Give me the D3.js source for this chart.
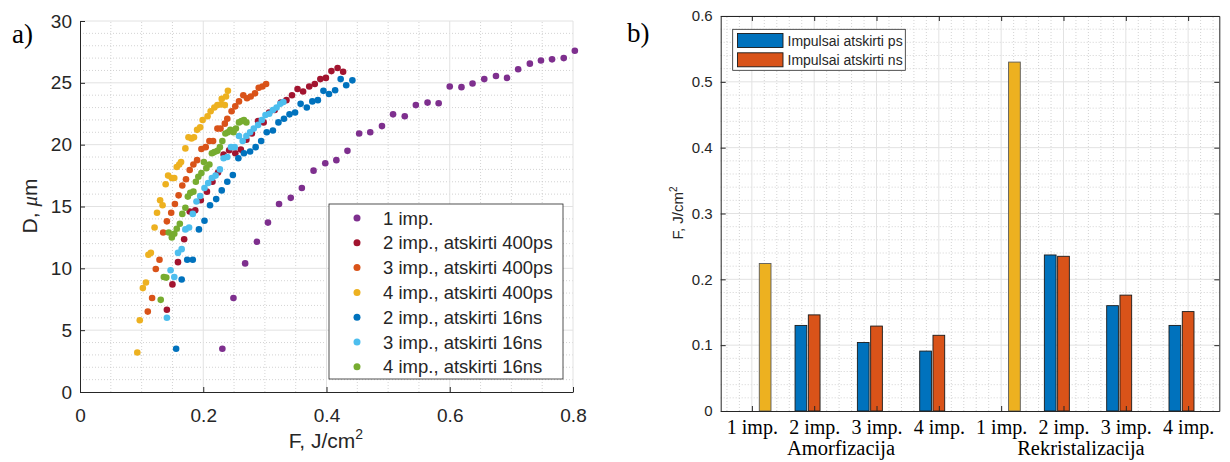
<!DOCTYPE html>
<html>
<head>
<meta charset="utf-8">
<script src="https://cdn.jsdelivr.net/npm/d3@7"></script>
<style>
  body { margin: 0; background: #fff; }
  svg { display: block; }
</style>
</head>
<body>
<div id="chart"></div>
<script>
// ---------- data: panel a) crater diameter D (um) vs fluence F (J/cm2) ----------
var imp1 = [[0.231,3.5],[0.249,7.6],[0.268,10.4],[0.287,12.15],[0.305,13.7],[0.323,15.2],[0.342,15.7],
  [0.360,16.5],[0.379,17.9],[0.398,18.5],[0.416,18.75],[0.434,19.5],[0.453,20.9],[0.471,21.0],[0.490,21.5],
  [0.508,22.45],[0.527,22.3],[0.545,23.2],[0.564,23.4],[0.582,23.35],[0.600,24.7],[0.619,24.65],[0.637,24.95],
  [0.656,25.3],[0.675,25.55],[0.693,25.4],[0.711,26.1],[0.730,26.55],[0.748,26.8],[0.766,26.9],[0.785,27.0],[0.803,27.6]];
var imp2ps = [[0.141,6.65],[0.150,8.7],[0.159,10.5],[0.169,12.35],[0.178,14.6],[0.187,14.7],[0.196,15.5],
  [0.206,16.2],[0.215,17.0],[0.224,17.75],[0.233,19.2],[0.242,19.55],[0.252,19.3],[0.261,19.6],[0.270,20.4],
  [0.279,20.9],[0.289,21.9],[0.298,21.8],[0.307,22.6],[0.316,22.8],[0.326,23.4],[0.335,23.6],[0.344,24.0],
  [0.353,24.5],[0.362,24.3],[0.372,24.7],[0.381,24.9],[0.390,25.3],[0.399,25.4],[0.408,25.95],[0.418,26.2],[0.427,25.9]];
var imp3ps = [[0.110,6.5],[0.117,7.6],[0.123,9.95],[0.129,10.7],[0.135,12.9],[0.141,13.8],[0.148,14.5],
  [0.154,15.2],[0.160,15.9],[0.166,16.7],[0.172,17.2],[0.178,17.95],[0.184,18.4],[0.190,18.75],[0.197,19.65],
  [0.204,19.8],[0.210,20.3],[0.216,20.3],[0.223,21.3],[0.228,21.3],[0.235,21.7],[0.239,22.1],[0.246,22.7],
  [0.252,23.1],[0.258,23.5],[0.265,24.0],[0.271,23.75],[0.277,23.9],[0.284,24.15],[0.290,24.6],[0.296,24.7],[0.302,24.9]];
var imp4ps = [[0.093,3.2],[0.097,5.8],[0.102,8.4],[0.107,8.85],[0.111,11.1],[0.115,11.25],[0.121,13.3],
  [0.125,14.5],[0.130,15.5],[0.134,15.1],[0.139,16.8],[0.143,17.5],[0.149,17.3],[0.153,17.3],[0.157,18.2],
  [0.161,18.4],[0.164,18.6],[0.171,19.7],[0.176,20.6],[0.181,20.5],[0.185,20.6],[0.190,21.2],[0.195,21.4],
  [0.199,22.0],[0.207,22.3],[0.212,22.7],[0.218,23.0],[0.223,23.2],[0.228,23.25],[0.230,23.7],[0.235,23.2],
  [0.237,23.9],[0.240,24.35]];
var imp2ns = [[0.156,3.5],[0.165,9.1],[0.174,10.7],[0.183,10.7],[0.193,13.15],[0.202,13.85],[0.211,15.1],
  [0.221,15.6],[0.230,16.3],[0.239,17.0],[0.248,17.55],[0.257,18.9],[0.266,19.3],[0.276,19.45],[0.285,19.8],
  [0.294,20.3],[0.303,21.0],[0.313,21.15],[0.322,21.8],[0.331,22.1],[0.340,22.45],[0.349,22.6],[0.358,23.3],
  [0.368,23.0],[0.377,23.5],[0.386,23.6],[0.395,24.35],[0.404,24.1],[0.414,24.4],[0.423,25.3],[0.432,24.8],[0.442,25.2]];
var imp3ns = [[0.141,6.0],[0.147,9.85],[0.153,9.3],[0.159,11.25],[0.165,11.55],[0.171,13.15],[0.177,13.3],
  [0.183,14.4],[0.189,15.4],[0.195,15.85],[0.202,16.5],[0.208,16.9],[0.214,17.3],[0.220,17.5],[0.227,18.0],
  [0.233,18.9],[0.239,19.0],[0.245,19.8],[0.251,19.8],[0.258,20.7],[0.264,20.3],[0.270,20.7],[0.276,21.0],
  [0.282,21.3],[0.289,21.6],[0.295,22.0],[0.301,22.4],[0.307,22.5],[0.313,22.8],[0.319,23.0],[0.325,23.3],[0.330,23.45]];
var imp4ns = [[0.131,7.45],[0.136,9.3],[0.140,9.25],[0.144,12.9],[0.149,12.5],[0.153,12.8],[0.157,13.2],
  [0.162,13.6],[0.166,14.4],[0.171,14.9],[0.175,15.8],[0.179,16.1],[0.184,16.2],[0.188,17.0],[0.192,17.4],
  [0.197,17.7],[0.201,18.6],[0.205,18.1],[0.210,18.4],[0.214,19.3],[0.218,19.4],[0.223,19.5],[0.227,19.8],
  [0.231,20.3],[0.236,20.9],[0.240,21.0],[0.244,21.2],[0.249,21.0],[0.253,21.3],[0.258,21.8],[0.262,21.9],
  [0.266,22.0],[0.270,21.8]];
var seriesNamesA = ["1 imp.", "2 imp., atskirti 400ps", "3 imp., atskirti 400ps", "4 imp., atskirti 400ps",
  "2 imp., atskirti 16ns", "3 imp., atskirti 16ns", "4 imp., atskirti 16ns"];
var xTicksA = [0, 0.2, 0.4, 0.6, 0.8];
var yTicksA = [0, 5, 10, 15, 20, 25, 30];

// ---------- data: panel b) threshold fluence ----------
var categoriesB = ["1 imp.", "2 imp.", "3 imp.", "4 imp.", "1 imp.", "2 imp.", "3 imp.", "4 imp."];
var groupLabelsB = ["Amorfizacija", "Rekristalizacija"];
var valuesPs = [0, 0.130, 0.104, 0.091, 0, 0.237, 0.160, 0.130];
var valuesNs = [0, 0.146, 0.129, 0.115, 0, 0.235, 0.176, 0.151];
var valuesSingle = [0.224, 0, 0, 0, 0.530, 0, 0, 0];
var legendNamesB = ["Impulsai atskirti ps", "Impulsai atskirti ns"];
var yTicksB = [0, 0.1, 0.2, 0.3, 0.4, 0.5, 0.6];

// matlab default colour order
var colorsA = ["#7E2F8E", "#A2142F", "#D95319", "#EDB120", "#0072BD", "#4DBEEE", "#77AC30"];
var colorsB = ["#0072BD", "#D95319", "#EDB120"];
var axisCol = "#262626";
var sans = "'Liberation Sans', Arial, sans-serif";
var serif = "'Liberation Serif', 'Times New Roman', serif";

var svg = d3.select("#chart").append("svg")
  .attr("width", 1230).attr("height", 462)
  .style("font-family", sans);

function grid(g, x, y, xMinor, xMajor, yMinor, yMajor) {
  var x0 = x.range()[0], x1 = x.range()[1], y0 = y.range()[0], y1 = y.range()[1];
  g.selectAll("line.vmin").data(xMinor).enter().append("line")
    .attr("x1", x).attr("x2", x).attr("y1", y0).attr("y2", y1)
    .attr("stroke", "#c8c8c8").attr("stroke-width", 0.8).attr("stroke-dasharray", "1,2");
  g.selectAll("line.hmin").data(yMinor).enter().append("line")
    .attr("y1", y).attr("y2", y).attr("x1", x0).attr("x2", x1)
    .attr("stroke", "#c8c8c8").attr("stroke-width", 0.8).attr("stroke-dasharray", "1,2");
  g.selectAll("line.vmaj").data(xMajor).enter().append("line")
    .attr("x1", x).attr("x2", x).attr("y1", y0).attr("y2", y1)
    .attr("stroke", "#e2e2e2").attr("stroke-width", 1);
  g.selectAll("line.hmaj").data(yMajor).enter().append("line")
    .attr("y1", y).attr("y2", y).attr("x1", x0).attr("x2", x1)
    .attr("stroke", "#e2e2e2").attr("stroke-width", 1);
}

function styleAxis(g, size, family) {
  g.select(".domain").attr("stroke", axisCol).attr("stroke-width", 1);
  g.selectAll(".tick line").attr("stroke", axisCol);
  g.selectAll(".tick text").attr("fill", axisCol).style("font-size", size + "px").style("font-family", family);
}

// ================= panel a =================
var xa = d3.scaleLinear().domain([0, 0.8]).range([80, 573]);
var ya = d3.scaleLinear().domain([0, 30]).range([392, 21]);

var ga = svg.append("g");
grid(ga, xa, ya,
  d3.range(0.05, 0.8, 0.05).filter(function(v) { return Math.abs(v / 0.2 - Math.round(v / 0.2)) > 0.01; }),
  xTicksA.slice(1),
  d3.range(1, 30, 1).filter(function(v) { return v % 5 !== 0; }),
  yTicksA.slice(1));

ga.append("g").attr("transform", "translate(0,392)")
  .call(d3.axisBottom(xa).tickValues(xTicksA).tickSize(-5).tickSizeOuter(0).tickPadding(17)
    .tickFormat(function(d) { return d === 0 ? "0" : d.toFixed(1); }))
  .call(styleAxis, 19, sans);
ga.append("g").attr("transform", "translate(80,0)")
  .call(d3.axisLeft(ya).tickValues(yTicksA).tickSize(-5).tickSizeOuter(0).tickPadding(8))
  .call(styleAxis, 19, sans);

var allA = [imp1, imp2ps, imp3ps, imp4ps, imp2ns, imp3ns, imp4ns];
ga.selectAll("g.ser").data(allA).enter().append("g")
  .attr("fill", function(d, i) { return colorsA[i]; })
  .selectAll("circle").data(function(d) { return d; }).enter().append("circle")
    .attr("cx", function(d) { return xa(d[0]); })
    .attr("cy", function(d) { return ya(d[1]); })
    .attr("r", 3.3);

// axis titles
ga.append("text").attr("x", 326).attr("y", 448).attr("text-anchor", "middle")
  .attr("fill", axisCol).style("font-size", "21px")
  .html("F, J/cm<tspan dy='-9' style='font-size:14px'>2</tspan>");
var dl = ga.append("text").attr("transform", "translate(37,206) rotate(-90)").attr("text-anchor", "middle")
  .attr("fill", axisCol).style("font-size", "21px");
dl.append("tspan").text("D, ");
dl.append("tspan").style("font-style", "italic").style("font-family", serif).text("\u03bc");
dl.append("tspan").text("m");

// legend a
var la = ga.append("g");
la.append("rect").attr("x", 329).attr("y", 204).attr("width", 234).attr("height", 175)
  .attr("fill", "#fff").attr("stroke", axisCol).attr("stroke-width", 0.8);
var lai = la.selectAll("g.it").data(seriesNamesA).enter().append("g")
  .attr("transform", function(d, i) { return "translate(0," + (218 + i * 24.8) + ")"; });
lai.append("circle").attr("cx", 357).attr("cy", 0).attr("r", 3.5)
  .attr("fill", function(d, i) { return colorsA[i]; });
lai.append("text").attr("x", 383).attr("y", 6.5).attr("fill", axisCol)
  .style("font-size", "18.5px").text(function(d) { return d; });

svg.append("text").attr("x", 12).attr("y", 43).style("font-family", serif)
  .style("font-size", "27px").attr("fill", "#000").text("a)");

// ================= panel b =================
var xb = d3.scaleLinear().domain([0.5, 8.5]).range([720.7, 1219.3]);
var yb = d3.scaleLinear().domain([0, 0.6]).range([411, 16]);
var gb = svg.append("g");

grid(gb, xb, yb,
  d3.range(0.6, 8.5, 0.2).filter(function(v) { return Math.abs(v - Math.round(v)) > 0.01; }),
  d3.range(1, 9),
  d3.range(0.02, 0.6, 0.02).filter(function(v) { return Math.abs(v * 10 - Math.round(v * 10)) > 0.01; }),
  yTicksB.slice(1));

// bars: three series per category (zero values are not drawn)
var off = 0.213, bw = 0.188;
var barSets = [valuesPs, valuesNs, valuesSingle];
barSets.forEach(function(vals, s) {
  var pts = vals.map(function(v, i) { return {cat: i + 1, v: v}; })
    .filter(function(d) { return d.v > 0; });
  gb.append("g").selectAll("rect").data(pts).enter().append("rect")
    .attr("x", function(d) { return xb(d.cat + (s - 1) * off - bw / 2); })
    .attr("y", function(d) { return yb(d.v); })
    .attr("width", xb(bw) - xb(0))
    .attr("height", function(d) { return yb(0) - yb(d.v); })
    .attr("fill", colorsB[s])
    .attr("stroke", s === 2 ? "#5a5a5a" : "#1a1a1a").attr("stroke-width", 0.9);
});

// box axes
gb.append("g").attr("transform", "translate(0,411)")
  .call(d3.axisBottom(xb).tickValues(d3.range(1, 9)).tickSize(-5).tickSizeOuter(0).tickPadding(9)
    .tickFormat(function(d) { return categoriesB[d - 1]; }))
  .call(styleAxis, 20, serif)
  .selectAll(".tick text").attr("fill", "#000");
gb.append("g").attr("transform", "translate(0,16)")
  .call(d3.axisTop(xb).tickValues(d3.range(1, 9)).tickSize(-5).tickSizeOuter(0).tickFormat(""))
  .call(styleAxis, 14, sans);
gb.append("g").attr("transform", "translate(720.7,0)")
  .call(d3.axisLeft(yb).tickValues(yTicksB).tickSize(-5).tickSizeOuter(0).tickPadding(8)
    .tickFormat(function(d) { return d === 0 ? "0" : d.toFixed(1); }))
  .call(styleAxis, 15, sans);
gb.append("g").attr("transform", "translate(1219.3,0)")
  .call(d3.axisRight(yb).tickValues(yTicksB).tickSize(-5).tickSizeOuter(0).tickFormat(""))
  .call(styleAxis, 14, sans);

// group labels under categories
gb.selectAll("text.grp").data(groupLabelsB).enter().append("text")
  .attr("x", function(d, i) { return xb(i === 0 ? 2.43 : 6.28); })
  .attr("y", 455).attr("text-anchor", "middle")
  .style("font-family", serif).style("font-size", "20.5px").attr("fill", "#000")
  .text(function(d) { return d; });

gb.append("text").attr("transform", "translate(683,213) rotate(-90)").attr("text-anchor", "middle")
  .attr("fill", axisCol).style("font-size", "15px")
  .html("F, J/cm<tspan dy='-6' style='font-size:10px'>2</tspan>");

// legend b
var lb = gb.append("g");
lb.append("rect").attr("x", 732.7).attr("y", 29.3).attr("width", 172.6).attr("height", 41)
  .attr("fill", "#fff").attr("stroke", axisCol).attr("stroke-width", 0.8);
var lbi = lb.selectAll("g.it").data(legendNamesB).enter().append("g")
  .attr("transform", function(d, i) { return "translate(0," + (33.5 + i * 19.3) + ")"; });
lbi.append("rect").attr("x", 737.5).attr("y", 0).attr("width", 45.5).attr("height", 14)
  .attr("fill", function(d, i) { return colorsB[i]; }).attr("stroke", "#1a1a1a").attr("stroke-width", 0.9);
lbi.append("text").attr("x", 787.5).attr("y", 12).attr("fill", axisCol)
  .style("font-size", "14px").text(function(d) { return d; });

svg.append("text").attr("x", 627).attr("y", 42).style("font-family", serif)
  .style("font-size", "27px").attr("fill", "#000").text("b)");
</script>
</body>
</html>
